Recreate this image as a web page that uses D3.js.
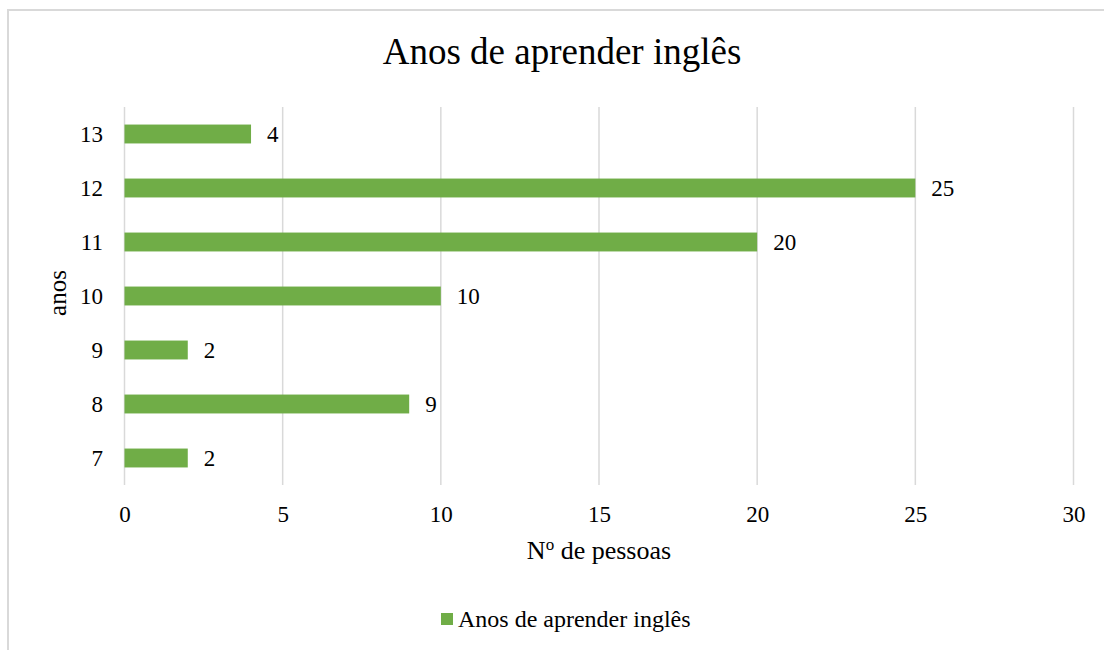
<!DOCTYPE html>
<html><head><meta charset="utf-8">
<script src="https://cdn.jsdelivr.net/npm/d3@7"></script>
<style>body{margin:0;background:#fff}svg{display:block}text{font-family:"Liberation Serif","Times New Roman",serif;fill:#000}</style>
</head><body>
<script>
const categories = ["7","8","9","10","11","12","13"];
const values = [2,9,2,10,20,25,4];
const xTicks = [0,5,10,15,20,25,30];
const title = "Anos de aprender inglês";
const seriesName = "Anos de aprender inglês";

const W=1104,H=650;
const FF="Liberation Serif, Times New Roman, serif";
const svg=d3.select("body").append("svg").attr("width",W).attr("height",H);
svg.append("rect").attr("x",8).attr("y",10).attr("width",W+10).attr("height",H+10)
  .attr("fill","#fff").attr("stroke","#d9d9d9").attr("stroke-width",2);

const x=d3.scaleLinear().domain([0,30]).range([124.5,1073.5]);
const y=d3.scaleBand().domain(categories.slice().reverse()).range([107,485]).paddingInner(0.65).paddingOuter(0.325);

// gridlines
svg.append("g").selectAll("line").data(xTicks).join("line")
  .attr("x1",d=>x(d)).attr("x2",d=>x(d)).attr("y1",107).attr("y2",485)
  .attr("stroke","#d9d9d9").attr("stroke-width",1.5);

// x axis labels
const xa=svg.append("g").attr("transform","translate(0,485)").call(d3.axisBottom(x).tickValues(xTicks).tickSize(0).tickPadding(0));
xa.attr("font-family",FF).attr("font-size",23);
xa.select(".domain").remove();
xa.selectAll("text").attr("y",37).attr("dy",null).attr("fill","#000");

// y axis labels
const ya=svg.append("g").attr("transform","translate(103,0)").call(d3.axisLeft(y).tickSize(0).tickPadding(0));
ya.attr("font-family",FF).attr("font-size",23);
ya.select(".domain").remove();
ya.selectAll("text").attr("dy","0.35em").attr("fill","#000");

const data=categories.map((c,i)=>({c,v:values[i]}));
svg.append("g").selectAll("rect").data(data).join("rect")
  .attr("x",x(0)).attr("y",d=>y(d.c)).attr("width",d=>x(d.v)-x(0)).attr("height",y.bandwidth())
  .attr("fill","#70ad47");
svg.append("g").selectAll("text").data(data).join("text")
  .attr("x",d=>x(d.v)+16).attr("y",d=>y(d.c)+y.bandwidth()/2).attr("dy","0.35em")
  .style("font-size","23px").text(d=>d.v);

svg.append("text").attr("x",562).attr("y",64).attr("text-anchor","middle").style("font-size","37px").text(title);

const xl=svg.append("text").attr("x",599).attr("y",559).attr("text-anchor","middle").style("font-size","26px");
xl.append("tspan").text("N");
xl.append("tspan").attr("dy",-9).style("font-size","17px").text("o");
xl.append("tspan").attr("dy",9).text(" de pessoas");

svg.append("text").attr("transform","translate(66,293) rotate(-90)").attr("text-anchor","middle").style("font-size","25px").text("anos");

svg.append("rect").attr("x",441).attr("y",613).attr("width",12).attr("height",12).attr("fill","#70ad47");
svg.append("text").attr("x",458).attr("y",627).style("font-size","24px").text(seriesName);
</script>
</body></html>
